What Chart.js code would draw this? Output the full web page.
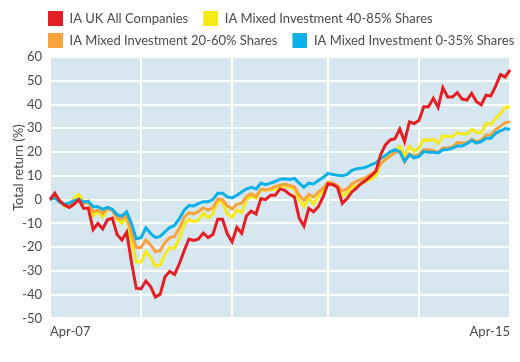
<!DOCTYPE html>
<html>
<head>
<meta charset="utf-8">
<script src="https://cdn.jsdelivr.net/npm/chart.js@4.4.1/dist/chart.umd.min.js"></script>
<style>
  html, body { margin: 0; padding: 0; background: #ffffff; }
  #wrap { width: 520px; height: 362px; position: relative; }
</style>
</head>
<body>
<div id="wrap"><canvas id="c" width="520" height="362"></canvas></div>
<script>
const months = [
  'Apr-07','May-07','Jun-07','Jul-07','Aug-07','Sep-07','Oct-07','Nov-07','Dec-07',
  'Jan-08','Feb-08','Mar-08','Apr-08','May-08','Jun-08','Jul-08','Aug-08','Sep-08','Oct-08','Nov-08','Dec-08',
  'Jan-09','Feb-09','Mar-09','Apr-09','May-09','Jun-09','Jul-09','Aug-09','Sep-09','Oct-09','Nov-09','Dec-09',
  'Jan-10','Feb-10','Mar-10','Apr-10','May-10','Jun-10','Jul-10','Aug-10','Sep-10','Oct-10','Nov-10','Dec-10',
  'Jan-11','Feb-11','Mar-11','Apr-11','May-11','Jun-11','Jul-11','Aug-11','Sep-11','Oct-11','Nov-11','Dec-11',
  'Jan-12','Feb-12','Mar-12','Apr-12','May-12','Jun-12','Jul-12','Aug-12','Sep-12','Oct-12','Nov-12','Dec-12',
  'Jan-13','Feb-13','Mar-13','Apr-13','May-13','Jun-13','Jul-13','Aug-13','Sep-13','Oct-13','Nov-13','Dec-13',
  'Jan-14','Feb-14','Mar-14','Apr-14','May-14','Jun-14','Jul-14','Aug-14','Sep-14','Oct-14','Nov-14','Dec-14',
  'Jan-15','Feb-15','Mar-15','Apr-15'
];

const seriesNames = [
  'IA UK All Companies',
  'IA Mixed Investment 40-85% Shares',
  'IA Mixed Investment 20-60% Shares',
  'IA Mixed Investment 0-35% Shares'
];

const ukAllCompanies = [
  0, 2.7, -0.5, -2.3, -3.3, -2, 0, -3.7, -3.7, -12.6, -10.1, -12.3, -8.5, -7.8, -14.7, -17, -13.7,
  -26.3, -37.3, -37.6, -34.3, -36.6, -41, -39.8, -32.5, -30.2, -31.5, -27, -21.5, -16.6, -17.2, -16.6,
  -14.1, -16, -14.7, -8.3, -8.3, -14.4, -17.8, -11.7, -14.2, -6.8, -4.9, -6.1, 0.4, 0, 1.8, 1.8, 4.5,
  3.9, 2.2, 1.1, -7.8, -11.2, -3.7, -5.1, -3, 1.1, 6.6, 6.3, 5.2, -1.6, 0.4, 3.2, 4.9, 6.9, 8.2, 10,
  11.8, 18.9, 23, 25.1, 25.6, 29.7, 24.4, 32.7, 32, 33.3, 39.1, 39.1, 42.6, 38.8, 47.1, 43.2, 43.2,
  45, 42.3, 41.9, 44.7, 41.2, 39.9, 43.9, 43.6, 47.7, 52.6, 51.6, 54.6
];

const mixed40to85 = [
  0, 1.8, -0.5, -2.7, -2.3, 0.5, 2.2, -1, -0.5, -6.8, -5.1, -7.4, -4.1, -4.1, -8.5, -9.9, -7.8,
  -17.4, -26.3, -26.3, -21.9, -24.3, -28.1, -27.4, -23, -20.2, -20.5, -16.3, -10.5, -8.3, -9.4, -8.5,
  -5.8, -7.8, -6, -0.6, -1.2, -6, -7.6, -4.4, -5.5, -0.1, 1.4, 0.6, 4, 3.9, 4.1, 4.3, 5.5,
  5.8, 5.2, 4.5, -0.3, -3, 0.8, -1.9, 1.4, 4.1, 6.9, 6.3, 5.2, 1.4, 2.8, 5.2, 5.9, 6.6, 7.7, 8.6,
  10, 14.8, 17.3, 18.9, 20.5, 22.4, 18.3, 22.4, 20.3, 21.7, 25.4, 24.9, 25.4, 23.5, 26.8, 26.5, 26.5,
  28.1, 27.6, 27.6, 29.5, 28.3, 28.1, 32, 31.7, 34, 36.1, 38.8, 39.1
];

const mixed20to60 = [
  0, 1.4, -0.5, -2.3, -3, -1.4, 0, -1.6, -1, -5.1, -4.5, -5.8, -3.7, -4.5, -7.8, -8.2, -6.9,
  -14, -20.2, -20.2, -17, -19.2, -21.9, -21.5, -18, -16, -15.5, -12, -7.5, -5.5, -6, -5,
  -3.5, -4.4, -3.4, 0.2, 0, -2.6, -4, -2, -1.6, 1.3, 2.5, 1.3, 4.3, 4.1, 4.5, 5.5, 6.1,
  6.5, 5.9, 5.4, 1.8, -0.3, 2.2, 1.1, 3.2, 4.9, 7.3, 6.9, 5.9, 3.6, 4.5, 6.6, 7.7, 8.6, 9.3, 10.7,
  12.1, 15.1, 16.8, 18.3, 19.8, 20.3, 15.8, 19.2, 18.3, 19, 21, 21, 20.7, 19.9, 21.7, 21.7, 22.3,
  24, 23.8, 23.8, 25.4, 24.4, 25.1, 27.2, 27.2, 29.5, 30.9, 32.4, 32.7
];

const mixed0to35 = [
  0, 0.7, -1, -1.9, -1.5, -0.5, 0, -1, -0.7, -3, -3, -4.1, -3.3, -4.1, -6.4, -6.9, -5.1,
  -10.1, -16.5, -16, -11.9, -14.2, -16, -15.5, -13.5, -11.8, -10.8, -8, -4.5, -2.5, -2.7, -1.6,
  -0.9, -0.9, 0, 2.7, 2.7, 1.1, 0.7, 1.8, 3.2, 4.5, 5.2, 4.5, 6.9, 6.3, 6.9, 7.6, 8.6,
  8.8, 8.5, 8.9, 6.9, 5.2, 6.9, 6.6, 8, 9.3, 11, 10.6, 10.2, 10, 10.6, 12.3, 13, 13.2, 13.7, 14.6,
  15.5, 17.3, 18.5, 20.1, 21, 20.1, 16.2, 18.9, 17.6, 18.2, 20.3, 19.9, 19.9, 19.6, 21, 21, 21.7,
  22.6, 22.6, 23.5, 24.9, 23.8, 24.4, 25.8, 25.8, 27.9, 28.9, 29.9, 29.5
];

const yTicks = { min: -50, max: 60, step: 10 };
const xGridIndices = [0, 19, 38, 58, 77, 96];
const yTitle = 'Total return (%)';

const colors = ['#e31e24', '#f5ea17', '#f8a33c', '#0db0e9'];
const drawOrder = [0, 3, 2, 1];

function legendSwatch(color) {
  const c = document.createElement('canvas');
  c.width = 21; c.height = 15;
  const g = c.getContext('2d');
  g.fillStyle = color;
  g.fillRect(6, 0, 15, 15);
  return c;
}

const seriesValues = [ukAllCompanies, mixed40to85, mixed20to60, mixed0to35];

Chart.defaults.font.family = 'Lato, "Open Sans", sans-serif';
Chart.defaults.font.size = 13;
Chart.defaults.color = '#4a4a4a';

const tweaks = {
  id: 'tweaks',
  beforeDraw(chart) {
    const a = chart.chartArea;
    const ctx = chart.ctx;
    ctx.save();
    ctx.fillStyle = '#d7e7f0';
    ctx.fillRect(a.left, a.top, a.right - a.left, a.bottom - a.top);
    ctx.restore();
  },
  afterLayout(chart) {
    if (chart.legend) {
      chart.legend.left = 33;
      chart.legend.right = 600;
    }
    const y = chart.scales.y;
    if (y && !y._titlePatched) {
      const orig = y.drawTitle;
      y.drawTitle = function () {
        const ctx = this.ctx;
        ctx.save();
        ctx.translate(0, -20);
        orig.call(this);
        ctx.restore();
      };
      y._titlePatched = true;
    }
  }
};

new Chart(document.getElementById('c'), {
  type: 'line',
  data: {
    labels: months,
    datasets: seriesNames.map((name, i) => ({
      label: name,
      data: seriesValues[i],
      borderColor: colors[i],
      backgroundColor: colors[i],
      borderWidth: 3,
      pointRadius: 0,
      pointHoverRadius: 0,
      pointStyle: legendSwatch(colors[i]),
      tension: 0,
      fill: false,
      order: drawOrder[i]
    }))
  },
  options: {
    responsive: false,
    animation: false,
    layout: { padding: { top: 3, right: 10, bottom: 16, left: 0 } },
    plugins: {
      tooltip: { enabled: false },
      legend: {
        position: 'top',
        align: 'start',
        labels: {
          usePointStyle: true,
          pointStyleWidth: 21,
          padding: 9,
          color: '#4a4a4a',
          font: { size: 13 },
          sort: (a, b) => a.datasetIndex - b.datasetIndex
        }
      }
    },
    scales: {
      x: {
        type: 'category',
        offset: false,
        border: { display: false },
        grid: { color: '#ffffff', lineWidth: 2, drawTicks: false },
        afterBuildTicks(scale) {
          scale.ticks = xGridIndices.map(v => ({ value: v }));
        },
        ticks: {
          autoSkip: false,
          maxRotation: 0,
          minRotation: 0,
          align: 'inner',
          padding: 6,
          color: '#4a4a4a',
          callback(value) {
            return (value === 0 || value === months.length - 1) ? months[value] : '';
          }
        }
      },
      y: {
        min: yTicks.min,
        max: yTicks.max,
        border: { display: false },
        grid: { color: '#ffffff', lineWidth: 2, drawTicks: false },
        afterFit(scale) { scale.width = 50; },
        ticks: { stepSize: yTicks.step, padding: 8, color: '#4a4a4a' },
        title: {
          display: true,
          text: yTitle,
          color: '#4a4a4a',
          font: { size: 13 },
          padding: { top: 11, bottom: 0 }
        }
      }
    }
  },
  plugins: [tweaks]
});
</script>
</body>
</html>
